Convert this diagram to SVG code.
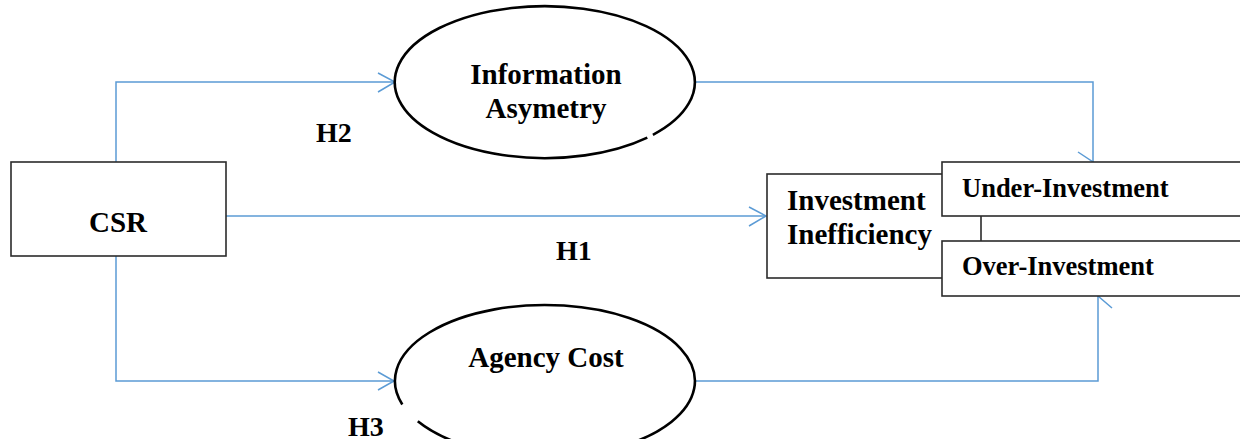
<svg xmlns="http://www.w3.org/2000/svg" width="1240" height="439" viewBox="0 0 1240 439">
  <style>
    .box { fill: #ffffff; stroke: #2b2b2b; stroke-width: 1.6; }
    .oval { fill: #ffffff; stroke: #000000; stroke-width: 2.6; }
    .link { fill: none; stroke: #5b9bd5; stroke-width: 1.5; }
    .head { fill: none; stroke: #5b9bd5; stroke-width: 1.5; }
    .lbl { font-family: "Liberation Serif", "Times New Roman", serif; font-weight: bold; font-size: 29px; fill: #000000; }
    .sub { font-size: 26.5px; }
    .hyp { font-family: "Liberation Serif", "Times New Roman", serif; font-weight: bold; font-size: 28px; fill: #000000; }
  </style>
  <rect width="1240" height="439" fill="#ffffff"/>

  <!-- connectors -->
  <g id="connectors">
    <path class="link" d="M116 162 V82 H395"/>
    <polyline class="head" points="378,73 395,82 378,92"/>
    <path class="link" d="M695 82 H1093 V162"/>
    <polyline class="head" points="1078,152 1093,162 1078,171"/>
    <path class="link" d="M226 216 H766"/>
    <polyline class="head" points="749,207 766,216 749,226"/>
    <path class="link" d="M116 256 V381 H394"/>
    <polyline class="head" points="378,372 394,381 378,390"/>
    <path class="link" d="M695 381 H1098 V296"/>
    <polyline class="head" points="1115,289 1098,296 1112,308"/>
  </g>

  <g id="csr">
    <rect class="box" x="11" y="162" width="215" height="94"/>
    <text class="lbl" x="118" y="232" text-anchor="middle">CSR</text>
  </g>

  <g id="information-asymetry">
    <path class="oval" d="M647.3 137.6 A150 76 0 1 1 652.9 134.8"/>
    <text class="lbl" x="546" y="84" text-anchor="middle">Information</text>
    <text class="lbl" x="546" y="118" text-anchor="middle">Asymetry</text>
  </g>

  <g id="agency-cost">
    <path class="oval" d="M402.3 404.5 A150 76 0 1 1 417.8 421.3"/>
    <text class="lbl" x="546" y="367" text-anchor="middle">Agency Cost</text>
  </g>

  <!-- the two sub-boxes sit over the right part of this box -->
  <g id="investment-inefficiency">
    <rect class="box" x="767" y="174" width="214" height="104"/>
    <text class="lbl" x="787" y="210">Investment</text>
    <text class="lbl" x="787" y="244">Inefficiency</text>
  </g>

  <g id="under-investment">
    <rect class="box" x="942" y="162" width="310" height="54"/>
    <text class="lbl sub" x="962" y="197">Under-Investment</text>
  </g>

  <g id="over-investment">
    <rect class="box" x="942" y="241" width="310" height="55"/>
    <text class="lbl sub" x="962" y="275">Over-Investment</text>
  </g>

  <g id="hypotheses">
    <text class="hyp" x="316" y="142">H2</text>
    <text class="hyp" x="556" y="260">H1</text>
    <text class="hyp" x="348" y="436">H3</text>
  </g>
</svg>
